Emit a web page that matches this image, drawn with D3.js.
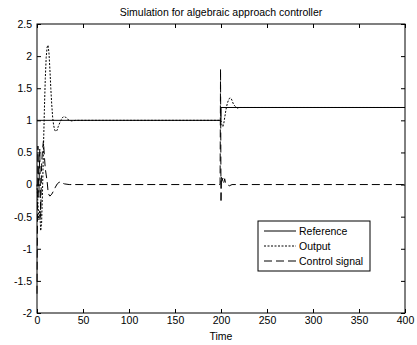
<!DOCTYPE html>
<html><head><meta charset="utf-8">
<script src="https://cdn.jsdelivr.net/npm/d3@7"></script>
<style>body{margin:0;background:#fff}svg{display:block}text{font-family:"Liberation Sans",Arial,sans-serif;fill:#000}</style>
</head><body>
<script>
const title = "Simulation for algebraic approach controller";
const xLabel = "Time";
const xTicks = [0,50,100,150,200,250,300,350,400];
const yTicks = [-2,-1.5,-1,-0.5,0,0.5,1,1.5,2,2.5];
const seriesNames = ["Reference","Output","Control signal"];

const refT = [0,200,200,400];
const refV = [1,1,1.2,1.2];

const outT = [0,1,2,3,4,5,6,7,8,9,10,11,12,13,14,15,16,17,18,19,20,21,22,23,25,27,29,31,33,35,38,42,199,200,201,202,203,204,205,206,207,208,209,210,211,212,213,214,216,218,220,223,400];
const outV = [0,-0.3,-0.55,-0.4,-0.72,-0.6,-0.1,0.55,1.15,1.65,1.98,2.14,2.17,2.05,1.8,1.5,1.25,1.05,0.93,0.86,0.83,0.83,0.85,0.9,0.97,1.03,1.06,1.05,1.02,1.0,0.99,1.0,1.0,1.0,0.93,0.9,0.95,1.04,1.13,1.21,1.27,1.31,1.34,1.35,1.34,1.31,1.27,1.24,1.21,1.19,1.2,1.2,1.2];

const ctlT = [0,1,2,3,4,5,6,7,8,9,10,11,12,13,14,16,18,20,22,24,26,28,30,35,199,199.5,200,200.5,201,202,203,204,205,207,209,212,400];
const ctlV = [-1.7,0.6,-0.2,0.55,-0.5,0.3,0.55,0.68,0.45,0.25,0.15,0.05,-0.1,-0.16,-0.18,-0.15,-0.1,-0.04,0.01,0.035,0.04,0.02,0.01,0,0,1.8,-0.28,0.12,0.05,0.1,0.03,0.09,0.02,0,-0.02,0,0];

const W = 417, H = 345;
const m = {l:37, r:405, t:24, b:313};
const svg = d3.select("body").append("svg").attr("width",W).attr("height",H);
const x = d3.scaleLinear().domain([0,400]).range([m.l,m.r]);
const y = d3.scaleLinear().domain([-2,2.5]).range([m.b,m.t]);

const fs = "10.5px";
const gx = svg.append("g").attr("transform",`translate(0,${m.b})`)
  .call(d3.axisBottom(x).tickValues(xTicks).tickSize(-4).tickPadding(4).tickFormat(d3.format("d")));
const gxt = svg.append("g").attr("transform",`translate(0,${m.t})`)
  .call(d3.axisTop(x).tickValues(xTicks).tickSize(-4).tickFormat(""));
const gy = svg.append("g").attr("transform",`translate(${m.l},0)`)
  .call(d3.axisLeft(y).tickValues(yTicks).tickSize(-4).tickPadding(5).tickFormat(d=>String(d)));
const gyr = svg.append("g").attr("transform",`translate(${m.r},0)`)
  .call(d3.axisRight(y).tickValues(yTicks).tickSize(-4).tickFormat(""));
[gx,gxt,gy,gyr].forEach(g=>{
  g.select(".domain").remove();
  g.selectAll("line").attr("stroke","#000");
  g.selectAll("text").style("font-size",fs).attr("fill","#000");
});
svg.append("rect").attr("x",m.l).attr("y",m.t).attr("width",m.r-m.l).attr("height",m.b-m.t)
  .attr("fill","none").attr("stroke","#000").attr("stroke-width",1);

const line = d3.line().x(d=>x(d[0])).y(d=>y(d[1]));
const zip = (a,b)=>a.map((v,i)=>[v,b[i]]);
const styles = [
  {data:zip(refT,refV), dash:null},
  {data:zip(outT,outV), dash:"2,1.5"},
  {data:zip(ctlT,ctlV), dash:"8,4"}
];
styles.forEach(s=>{
  svg.append("path").attr("d",line(s.data)).attr("fill","none").attr("stroke","#000")
    .attr("stroke-width",1).attr("stroke-dasharray",s.dash);
});

svg.append("text").attr("x",(m.l+m.r)/2).attr("y",16).attr("text-anchor","middle").style("font-size",fs).text(title);
svg.append("text").attr("x",(m.l+m.r)/2).attr("y",340).attr("text-anchor","middle").style("font-size",fs).text(xLabel);

const lg = svg.append("g");
lg.append("rect").attr("x",258).attr("y",221).attr("width",112).attr("height",50)
  .attr("fill","#fff").attr("stroke","#000");
seriesNames.forEach((n,i)=>{
  const yy = 231 + i*15;
  lg.append("line").attr("x1",264).attr("x2",296).attr("y1",yy).attr("y2",yy)
    .attr("stroke","#000").attr("stroke-dasharray",styles[i].dash);
  lg.append("text").attr("x",299).attr("y",yy+4).style("font-size",fs).text(n);
});
</script>
</body></html>
